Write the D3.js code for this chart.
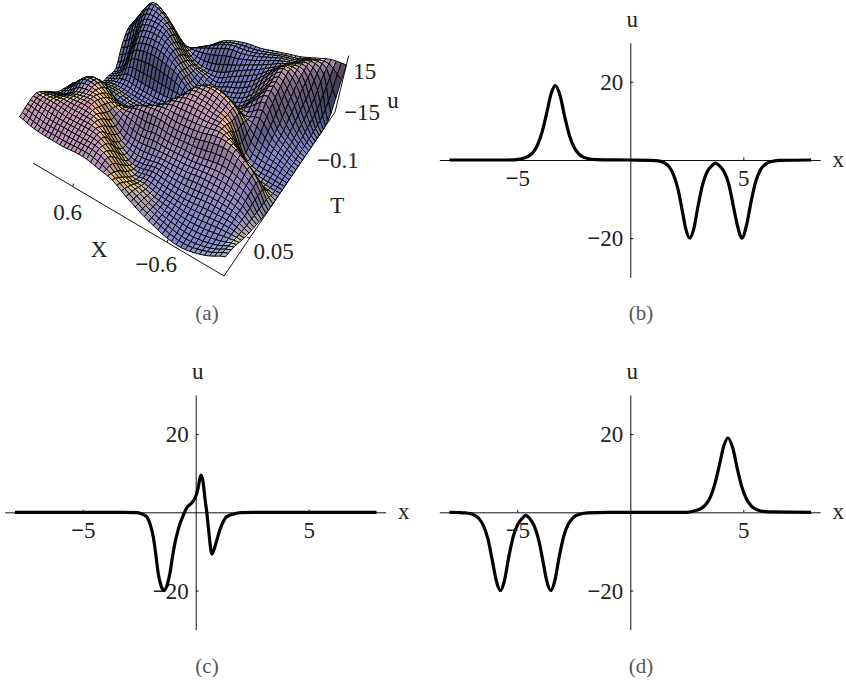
<!DOCTYPE HTML>
<html>
<head>
	<title>Soliton surface and profiles</title>
	<meta http-equiv="Content-Type" content="text/html; charset=utf-8">
	<script src="https://cdnjs.cloudflare.com/ajax/libs/d3/7.8.5/d3.min.js"></script>
	<style type="text/css">
		html, body { margin: 0; padding: 0; background: #fff; }
		svg { display: block; }
		text { font-family: "Liberation Serif", serif; fill: #222; }
		.lab { font-size: 23px; }
		.cap { font-size: 21px; fill: #555; text-anchor: middle; }
		.curve { fill: none; stroke: #000; stroke-width: 3.2; stroke-linejoin: round; }
		.axis path, .axis line { stroke: #111; stroke-width: 1; fill: none; }
		.quad { stroke: #000; stroke-width: 1; stroke-opacity: 0.95; stroke-linejoin: round; }
		.box { stroke: #111; stroke-width: 1; fill: none; }
	</style>
</head>
<body>
	<div id="picture"></div>
	<script>
var width  = 846;
var height = 684;

// panel (b)
var xB = [-8,-5.5,-5,-4.7,-4.5,-4.3,-4.1,-3.9,-3.7,-3.5,-3.32,-3.1,-2.9,-2.7,-2.5,-2.3,-2.1,-1.9,-1.5,0,0.8,1.1,1.3,1.5,1.7,1.9,2.1,2.3,2.45,2.63,2.8,3,3.2,3.4,3.6,3.77,3.95,4.15,4.35,4.55,4.75,4.94,5.15,5.35,5.55,5.75,5.95,6.2,6.6,8];
var uB = [0,0,0.1,0.5,1,2,3.9,7.2,12,17,19,16.3,11,6.4,3.4,1.7,0.8,0.4,0.1,0,-0.1,-0.15,-0.3,-0.7,-1.6,-3.6,-7.2,-13,-17.5,-20,-17.8,-11.7,-6.3,-3,-1.5,-0.8,-1.5,-3,-6,-11.5,-17,-20,-16.5,-10.5,-5.5,-2.6,-1.2,-0.45,-0.1,0];

// panel (c)
var xC = [-8,-3.2,-2.6,-2.35,-2.17,-2.02,-1.88,-1.76,-1.66,-1.52,-1.4,-1.26,-1.14,-1.03,-0.92,-0.8,-0.69,-0.55,-0.4,-0.18,-0.03,0.1,0.23,0.32,0.41,0.49,0.58,0.72,0.86,1.07,1.37,1.7,2,2.6,8];
var uC = [0,0,-0.1,-0.5,-1.1,-3,-6.2,-11,-15.6,-19,-20,-18.5,-15.6,-11.5,-7.9,-5,-2.8,-0.8,1.1,2.4,3.6,6,9.5,8,3.5,0,-5,-10.7,-8.6,-4.5,-1.1,-0.4,-0.1,0,0];

// panel (d)
var xD = [-8,-7.6,-7.3,-7.1,-6.9,-6.7,-6.5,-6.3,-6.1,-5.93,-5.75,-5.57,-5.37,-5.17,-4.97,-4.77,-4.63,-4.45,-4.25,-4.05,-3.85,-3.7,-3.52,-3.34,-3.14,-2.94,-2.74,-2.54,-2.3,-1.9,-1,0,2.5,2.94,3.14,3.34,3.54,3.74,3.94,4.14,4.32,4.54,4.74,4.94,5.14,5.34,5.54,5.74,6.14,8];
var uD = [0,-0.05,-0.15,-0.3,-0.7,-1.6,-3.4,-6.8,-12.5,-17.5,-20,-17.5,-11.2,-6,-3,-1.5,-0.8,-1.6,-3.5,-7.2,-13,-17.5,-20,-17.5,-11.2,-6,-3,-1.4,-0.6,-0.15,0,0,0,0.5,1,2,3.9,7.2,12,17,19,16.3,11,6.4,3.4,1.7,0.8,0.4,0.1,0];

var xTicks = [-5, 5];
var uTicks = [20, -20];

// panel (a): heights. surfaceU[j][i] belongs to surfaceT[j], surfaceX[i].
var surfaceX = [-1.2,-1.05,-0.9,-0.75,-0.6,-0.45,-0.3,-0.15,0,0.15,0.3,0.45,0.6,0.75,0.9,1.05,1.2];
var surfaceT = [0.1,0.0844,0.0688,0.0531,0.0375,0.0219,0.0063,-0.0094,-0.025,-0.0406,-0.0563,-0.0719,-0.0875,-0.1031,-0.1188,-0.1344,-0.15];
var surfaceU = [
	[ -1, -7,-11,-13,-12, -9, -5,  0,  6,  8, 10, 10,  9,  9,  9, 10, 12],
	[ -3, -8,-11,-12,-11, -9, -6, -2,  1,  9, 12, 12, 12, 12, 12, 13, 14],
	[ -7, -7, -8, -9, -9, -8, -7, -5, -5,  2, 11, 14, 14, 14, 15, 15, 15],
	[-10, -6, -5, -5, -6, -6, -5, -4, -6, -5,  2, 12, 15, 15, 14, 12, 11],
	[-12, -5, -2, -1, -1, -2, -2, -2, -3, -3, -1,  6, 14, 14, 12,  8,  6],
	[-14, -3,  2,  4,  3,  2,  2,  2,  3,  2,  4,  6, 10, 14, 14,  9,  4],
	[-15, -3,  5, 10, 11,  9,  8,  8,  9,  9,  7,  3,  3, 10, 10,  6,  2],
	[-15,-13, -9,  3, 11, 12, 13, 13, 11,  5, -1, -4, -6, -6, -5, -3, -6],
	[-15,-14,-13, -8,  8, 13, 15, 15,  8,  0, -5, -8, -9, -8, -6, -6, -8],
	[-15,-12,-10, -6,  7, 13, 15, 12,  3, -4, -8,-10,-10, -9, -8, -8,-10],
	[-15,-11, -6,  2,  0,  4,  4,  1, -3, -6, -8, -8, -7, -6, -5, -8,-10],
	[-15,-10, -3,  9,  3, -5, -7, -9, -9, -6,  0,  3,  5,  5,  3, -6,-10],
	[-15, -8,  3, 12,  3, -5, -8, -9, -9, -7, -1,  6, 10, 11,  9,  0, -3],
	[-15, -5,  8, 14,  7, -1, -5, -7, -9, -6, -3,  3, 11, 14, 14,  8,  2],
	[-15, -1, 11, 11,  7,  3,  0, -3, -6, -7, -6, -2,  6, 13, 16, 10,  3],
	[-11,  7, 11,  8,  7,  5,  3,  2,  2,  0, -2, -4, -5, -2,  6,  6,  2],
	[ 10, 10,  8,  6,  5,  4,  3,  3,  2,  0, -4, -7,-10, -8,  0,  1,  2]
];

var svg = d3.select("#picture").append("svg")
	.attr("width", width)
	.attr("height", height);

// heavy minus like the original typesetting
function boldMinus(sel) {
	sel.each(function() {
		var t = d3.select(this), str = t.text();
		if(str.charAt(0) != "\u2212") return;
		t.text(null);
		t.append("tspan").attr("font-weight", "bold").text("\u2212");
		t.append("tspan").text(str.slice(1));
	});
}

// --- 2D panels --- //
function drawProfile(x0, y0, xs, us) {
	var sx = d3.scaleLinear().domain([-8.45, 8.4]).range([x0 - 8.45 * 22.6, x0 + 8.4 * 22.6]);
	var sy = d3.scaleLinear().domain([-30, 30]).range([y0 + 117.3, y0 - 117.3]);
	var g = svg.append("g");

	var ax = g.append("g").attr("class", "axis")
		.attr("transform", "translate(0," + y0 + ")")
		.call(d3.axisTop(sx).tickValues(xTicks).tickSize(2.5).tickSizeOuter(0));
	ax.selectAll("text").attr("class", "lab").attr("y", 26).attr("dy", 0).call(boldMinus);

	var ay = g.append("g").attr("class", "axis")
		.attr("transform", "translate(" + x0 + ",0)")
		.call(d3.axisRight(sy).tickValues(uTicks).tickSize(3).tickSizeOuter(0));
	ay.selectAll("text").attr("class", "lab")
		.attr("x", -7).attr("dy", "0.33em").attr("text-anchor", "end").call(boldMinus);

	g.selectAll(".axis").attr("font-family", null).attr("font-size", null);

	g.append("path").attr("class", "curve")
		.attr("d", d3.line()
			.x(function(d) { return sx(d[0]); })
			.y(function(d) { return sy(d[1]); })
			.curve(d3.curveMonotoneX)(d3.zip(xs, us)));

	g.append("text").attr("class", "lab").attr("text-anchor", "middle")
		.attr("x", x0 + 2).attr("y", y0 - 133).text("u");
	g.append("text").attr("class", "lab").attr("text-anchor", "middle")
		.attr("x", x0 + 208).attr("y", y0 + 7).text("x");
}

drawProfile(630.3, 160, xB, uB);
drawProfile(195.7, 512.3, xC, uC);
drawProfile(630.3, 512.3, xD, uD);

// --- panel (a) --- //
// box floor: perspective map from the unit square, verticals run towards a point under the plot
var sOf = d3.scaleLinear().domain([-1.2, 1.2]).range([0, 1]);
var tOf = d3.scaleLinear().domain([0.1, -0.15]).range([0, 1]);
var hOf = d3.scaleLinear().domain([-15, 15]).range([0, 1]).clamp(true);

function floorPoint(s, t) {
	var w = 1 + 0.273 * s + 0.205 * t;
	return [(224 - 182 * s + 179.7 * t) / w, (276 - 68.5 * s - 141 * t) / w];
}
function project(X, T, u) {
	var b = floorPoint(sOf(X), tOf(T));
	var k = 0.095 * (u + 15) / 30;
	return [b[0] + (b[0] - 191) * k, b[1] + (b[1] - 706) * k];
}

// the mesh is finer than the table: each line is a smooth spline through the read heights
function spline(p0, p1, p2, p3, f) {
	return 0.5 * (2 * p1 + (p2 - p0) * f + (2 * p0 - 5 * p1 + 4 * p2 - p3) * f * f + (3 * p1 - p0 - 3 * p2 + p3) * f * f * f);
}
function pick(arr, i) { return arr[Math.max(0, Math.min(arr.length - 1, i))]; }
function heightAt(fi, fj) {
	var i = Math.min(Math.floor(fi), surfaceX.length - 2), j = Math.min(Math.floor(fj), surfaceT.length - 2);
	var col = [];
	for(var n = -1; n < 3; n++) {
		var row = pick(surfaceU, j + n);
		col.push(spline(pick(row, i - 1), pick(row, i), pick(row, i + 1), pick(row, i + 2), fi - i));
	}
	return spline(col[0], col[1], col[2], col[3], fj - j);
}

var cells = 48;
var xAt = d3.scaleLinear().domain([0, cells]).range([-1.2, 1.2]);
var tAt = d3.scaleLinear().domain([0, cells]).range([0.1, -0.15]);
var iAt = d3.scaleLinear().domain([0, cells]).range([0, surfaceX.length - 1]);
var jAt = d3.scaleLinear().domain([0, cells]).range([0, surfaceT.length - 1]);

var vals = d3.range(cells + 1).map(function(j) {
	return d3.range(cells + 1).map(function(i) { return heightAt(iAt(i), jAt(j)); });
});

function shade(i, j) {
	var a = floorPoint(sOf(xAt(i)), tOf(tAt(j))), c = floorPoint(sOf(xAt(i + 1)), tOf(tAt(j + 1)));
	var b = floorPoint(sOf(xAt(i + 1)), tOf(tAt(j))), d = floorPoint(sOf(xAt(i)), tOf(tAt(j + 1)));
	var zk = 1.7;
	var v1 = [c[0] - a[0], c[1] - a[1], (vals[j + 1][i + 1] - vals[j][i]) * zk];
	var v2 = [d[0] - b[0], d[1] - b[1], (vals[j + 1][i] - vals[j][i + 1]) * zk];
	var n = [v1[1] * v2[2] - v1[2] * v2[1], v1[2] * v2[0] - v1[0] * v2[2], v1[0] * v2[1] - v1[1] * v2[0]];
	if(n[2] < 0) n = n.map(function(q) { return -q; });
	var len = Math.hypot(n[0], n[1], n[2]);
	n = n.map(function(q) { return q / len; });
	var warm = Math.max(0, n[0] - n[1]);
	// the sheet in front of the diagonal crest turns pink as it climbs
	var front = (i + j) / cells < 1.12 ? 1 : 0.1;
	var pink = Math.pow(hOf(vals[j][i]), 1.3) * front;
	var cool = Math.max(0, -n[1]) * (n[0] < 0.2 ? 1 : 0);
	var r = 0.5 + 0.3 * pink + 0.42 * warm;
	var g = 0.53 + 0.08 * pink + 0.32 * warm + 0.3 * cool;
	var bl = 0.8 - 0.1 * pink - 0.28 * warm + 0.12 * cool;
	var dim = Math.min(1, 0.25 + 0.85 * n[2]);
	return d3.rgb(Math.min(1, r * dim) * 255, Math.min(1, g * dim) * 255, Math.min(1, bl * dim) * 255).formatHex();
}

var quads = [];
for(var j = cells - 1; j >= 0; j--)
	for(var i = cells - 1; i >= 0; i--)
		quads.push({ i: i, j: j });

var surf = svg.append("g");
surf.selectAll("path").data(quads).join("path")
	.attr("class", "quad")
	.attr("fill", function(q) { return shade(q.i, q.j); })
	.attr("d", function(q) {
		var i = q.i, j = q.j;
		return "M" + [
			project(xAt(i), tAt(j), vals[j][i]),
			project(xAt(i + 1), tAt(j), vals[j][i + 1]),
			project(xAt(i + 1), tAt(j + 1), vals[j + 1][i + 1]),
			project(xAt(i), tAt(j + 1), vals[j + 1][i])
		].map(function(p) { return p[0].toFixed(1) + "," + p[1].toFixed(1); }).join("L") + "Z";
	});

// box edges, ticks and their labels
var boxLine = d3.line();
var box = svg.append("g");
box.append("path").attr("class", "box")
	.attr("d", boxLine([project(1.2, 0.1, -15), project(-1.2, 0.1, -15), project(-1.2, -0.15, -15), project(-1.2, -0.15, 15)]));

function label(p, dx, dy, str) {
	box.append("text").attr("class", "lab").attr("text-anchor", "middle")
		.attr("x", p[0] + dx).attr("y", p[1] + dy).text(str).call(boldMinus);
}
var fmt = function(v) { return String(v).replace("-", "\u2212"); };
[0.6, -0.6].forEach(function(v) {
	var p = project(v, 0.1, -15);
	box.append("path").attr("class", "box").attr("d", boxLine([p, [p[0] + 1, p[1] - 3]]));
});
[0.05, -0.1].forEach(function(v) {
	var p = project(-1.2, v, -15);
	box.append("path").attr("class", "box").attr("d", boxLine([p, [p[0] - 3, p[1] - 1]]));
});
label(project(0.6, 0.1, -15), -5, 34, fmt(0.6));
label(project(-0.6, 0.1, -15), -11, 30, fmt(-0.6));
label(project(-1.2, 0.05, -15), 24, 21, fmt(0.05));
label(project(-1.2, -0.1, -15), 22, 28, fmt(-0.1));
label(project(-1.2, -0.15, 15), 16, 23, fmt(15));
label(project(-1.2, -0.15, -15), 27, 8, fmt(-15));
label(project(-1.2, -0.15, -15), 58, -4, "u");
label(project(-1.2, -0.0063, -15), 61, 14, "T");
label(project(0, 0.1, -15), -18, 44, "X");

// captions
[["(a)", 207, 320], ["(b)", 641, 320], ["(c)", 207, 673], ["(d)", 641, 673]].forEach(function(c) {
	svg.append("text").attr("class", "cap").attr("x", c[1]).attr("y", c[2]).text(c[0]);
});
	</script>
</body>
</html>
